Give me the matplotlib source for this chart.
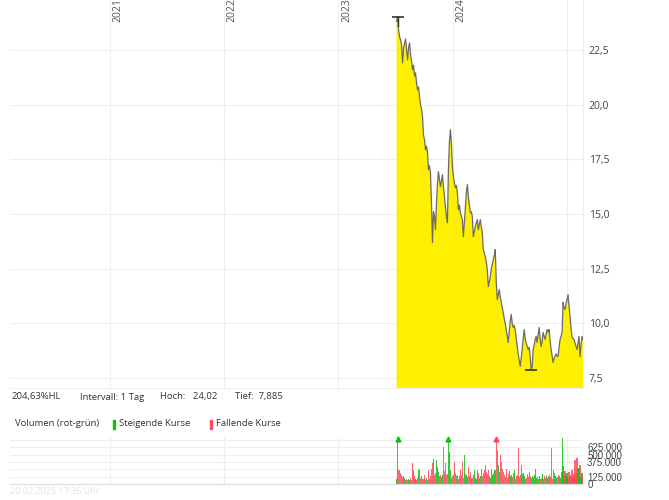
import matplotlib.pyplot as plt
from matplotlib.patches import Rectangle
from matplotlib.ticker import FuncFormatter
import pandas as pd

# Schlusskurse (etwa alle 3 Kalendertage), Juli 2023 bis 20.02.2025
close = [
    23.8, 24.02, 23.4, 23.1, 22.96, 22.7, 21.9, 22.6, 22.8, 23.0,
    22.5, 22.04, 22.6, 22.82, 22.3, 22.0, 21.59, 21.8, 21.3, 21.45,
    21.0, 20.67, 20.8, 20.35, 20.0, 19.8, 19.44, 18.6, 18.39, 17.93,
    18.1, 17.8, 17.02, 17.2, 16.88, 15.5, 13.69, 15.1, 14.9, 14.28,
    15.5, 16.4, 16.93, 16.6, 16.24, 16.5, 16.79, 16.24, 15.8, 15.3,
    14.9, 14.6, 17.02, 18.3, 18.85, 18.2, 17.2, 16.7, 16.43, 16.2,
    16.3, 15.97, 15.19, 15.4, 15.06, 14.9, 14.74, 13.96, 14.6, 15.33,
    16.0, 16.34, 15.79, 15.4, 15.06, 15.1, 14.87, 13.96, 14.2, 14.42,
    14.6, 14.74, 14.28, 14.5, 14.74, 14.4, 14.14, 13.37, 13.2, 13.05,
    12.8, 12.45, 11.68, 11.9, 12.13, 12.5, 12.7, 12.9, 13.1, 13.37,
    11.86, 11.08, 11.3, 11.54, 11.2, 10.95, 10.7, 10.49, 10.2, 10.0,
    9.71, 9.4, 9.12, 9.6, 10.1, 10.4, 10.0, 9.81, 9.9, 9.71,
    9.3, 8.94, 8.6, 8.3, 8.03, 8.4, 8.8, 9.3, 9.71, 9.3,
    9.1, 8.94, 8.8, 8.9, 8.48, 7.885, 8.0, 8.8, 9.0, 9.26,
    9.4, 9.12, 9.5, 9.81, 9.3, 8.94, 9.2, 9.58, 9.4, 9.26,
    9.5, 9.71, 9.6, 9.71, 9.2, 8.8, 8.5, 8.21, 8.4, 8.48,
    8.6, 8.5, 8.48, 8.9, 9.26, 9.4, 9.58, 10.95, 10.7, 10.63,
    10.9, 11.08, 11.31, 10.8, 10.31, 9.8, 9.35, 9.3, 9.26, 9.1,
    8.94, 8.8, 9.1, 9.4, 8.48, 9.0, 9.4, 9.26,
]

# Volumen in Tausend Stück
volume_k = [
    90, 1250, 240, 230, 190, 150, 120, 140, 100, 70,
    80, 60, 90, 70, 110, 60, 360, 240, 130, 90,
    70, 110, 240, 250, 100, 130, 80, 90, 160, 70,
    110, 60, 230, 90, 140, 250, 360, 420, 160, 180,
    410, 290, 200, 130, 150, 120, 150, 630, 220, 350,
    160, 170, 900, 550, 240, 110, 130, 150, 375, 180,
    140, 160, 90, 130, 230, 150, 375, 110, 500, 170,
    160, 120, 290, 140, 200, 100, 110, 150, 240, 110,
    90, 240, 180, 110, 130, 250, 130, 180, 230, 325,
    200, 170, 230, 140, 110, 250, 160, 180, 240, 230,
    920, 580, 330, 200, 500, 370, 250, 200, 150, 120,
    260, 110, 170, 220, 130, 150, 120, 190, 230, 90,
    140, 150, 610, 120, 160, 330, 170, 180, 140, 90,
    110, 170, 120, 200, 140, 100, 130, 120, 150, 260,
    110, 120, 90, 140, 80, 100, 170, 90, 130, 110,
    150, 100, 140, 160, 120, 610, 90, 230, 180, 130,
    100, 120, 160, 140, 110, 200, 790, 310, 150, 220,
    130, 180, 120, 200, 130, 150, 240, 110, 170, 410,
    180, 440, 260, 280, 330, 120, 190, 160,
]
volume = [v * 1000 for v in volume_k]

dates = pd.date_range("2023-07-06", "2025-02-20", periods=len(close))
years = ["2021", "2022", "2023", "2024", "2025"]
price_ticks = [7.5, 10.0, 12.5, 15.0, 17.5, 20.0, 22.5]
vol_grid = [0, 125000, 250000, 375000, 500000, 625000, 750000]
vol_labels = [0, 125000, 375000, 500000, 625000]

hoch, tief = 24.02, 7.885
info = ["204,63%HL", "Intervall: 1 Tag", "Hoch:   24,02", "Tief:  7,885"]

green = "#10c010"
red = "#ff4a5c"
grid_c = "#eeeeee"
text_c = "#444444"

plt.rcParams['font.family'] = ['Open Sans', 'DejaVu Sans']

fig = plt.figure(figsize=(6.69, 5.0), dpi=100)
ax = fig.add_axes([10 / 669, 1 - 388 / 500, 573 / 669, 388 / 500])
axv = fig.add_axes([10 / 669, 1 - 484 / 500, 573 / 669, 47 / 500])

x0, x1 = pd.Timestamp("2020-02-18"), pd.Timestamp("2025-02-20")

# --- Kurs-Chart
ax.fill_between(dates, close, 0, color="#fff000", lw=0, zorder=2)
ax.plot(dates, close, color="#6b6b6b", lw=0.9, zorder=3)
ax.set_xlim(x0, x1)
ax.set_ylim(7.04, 24.78)

for p in price_ticks:
    ax.axhline(p, color=grid_c, lw=0.8, zorder=1)
for y in years:
    ax.axvline(pd.Timestamp(y + "-01-01"), color=grid_c, lw=0.8, zorder=1)
    if y != "2025":
        ax.annotate(y, (pd.Timestamp(y + "-01-01"), 1), xycoords=("data", "axes fraction"),
                    xytext=(2, 1), textcoords="offset points", rotation=90,
                    ha="left", va="top", fontsize=7.5, color="#555555")

# Hoch/Tief-Markierungen
i_hi = close.index(hoch)
i_lo = close.index(tief)
ax.plot(dates[i_hi], hoch, marker="_", ms=9, mew=1.2, color="#333333", zorder=4)
ax.plot([dates[i_hi], dates[i_hi]], [hoch, close[i_hi] - 0.45], color="#333333", lw=1, zorder=4)
ax.plot(dates[i_lo], tief, marker="_", ms=9, mew=1.2, color="#333333", zorder=4)

ax.set_xticks([])
ax.yaxis.tick_right()
ax.set_yticks(price_ticks)
ax.yaxis.set_major_formatter(FuncFormatter(lambda v, _: f"{v:.1f}".replace(".", ",")))
ax.tick_params(axis="y", length=0, pad=4, labelsize=7.5, labelcolor=text_c)
for s in ax.spines.values():
    s.set_visible(False)
for side in ["bottom", "right"]:
    ax.spines[side].set_visible(True)
    ax.spines[side].set_color(grid_c)

# --- Volumen
vmax = 800000
bar_colors = [green]
for i in range(1, len(close)):
    bar_colors.append(green if close[i] >= close[i - 1] else red)
axv.bar(dates, volume, width=3.6, color=bar_colors, alpha=0.85, lw=0, zorder=2)
for d, v, c in zip(dates, volume, bar_colors):
    if v > vmax:
        axv.plot(d, vmax * 0.96, marker="^", ms=3.5, color=c, clip_on=False, zorder=3)
axv.set_xlim(x0, x1)
axv.set_ylim(0, vmax)
for g in vol_grid:
    axv.axhline(g, color=grid_c, lw=0.8, zorder=1)
for y in years:
    axv.axvline(pd.Timestamp(y + "-01-01"), color=grid_c, lw=0.8, zorder=1)
axv.set_xticks([])
axv.yaxis.tick_right()
axv.set_yticks(vol_labels)
axv.yaxis.set_major_formatter(FuncFormatter(lambda v, _: f"{int(v):,}".replace(",", ".")))
axv.tick_params(axis="y", length=0, pad=3, labelsize=7, labelcolor=text_c)
for lbl in axv.get_yticklabels():
    lbl.set_family(["Liberation Sans", "DejaVu Sans"])
for s in axv.spines.values():
    s.set_visible(False)
axv.spines["bottom"].set_visible(True)
axv.spines["bottom"].set_color("#dddddd")

# --- Info-Zeilen
fs = 6.8
for txt, xp in zip(info, [12, 80, 160, 235]):
    fig.text(xp / 669, 1 - 397 / 500, txt, fontsize=fs, color="#333333", va="center")

fig.text(15 / 669, 1 - 424 / 500, "Volumen (rot-grün)", fontsize=fs, color="#333333", va="center")
fig.patches.append(Rectangle((113 / 669, 1 - 429 / 500), 2 / 669, 9 / 500,
                             color=green, transform=fig.transFigure, figure=fig))
fig.text(119 / 669, 1 - 424 / 500, "Steigende Kurse", fontsize=fs, color="#333333", va="center")
fig.patches.append(Rectangle((210 / 669, 1 - 429 / 500), 2 / 669, 9 / 500,
                             color=red, transform=fig.transFigure, figure=fig))
fig.text(216 / 669, 1 - 424 / 500, "Fallende Kurse", fontsize=fs, color="#333333", va="center")

fig.text(10 / 669, 1 - 492 / 500, "20.02.2025 17:36 Uhr", fontsize=6.5, color="#e3e3e3", va="center")

fig.savefig("out.png", dpi=100)
